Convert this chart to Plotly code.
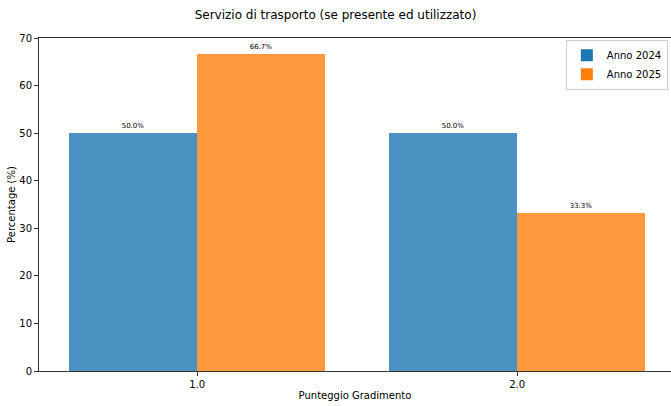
"""Bar chart: Servizio di trasporto, 2024 vs 2025."""

import plotly.graph_objects as go

scores = [1.0, 2.0]
tick_labels = ["1.0", "2.0"]
pct_2024 = [50.0, 50.0]
pct_2025 = [66.7, 33.3]

BAR_W = 0.4
FONT = "DejaVu Sans"

fig = go.Figure()
fig.add_trace(go.Bar(
    x=scores, y=pct_2024, name="Anno 2024",
    width=BAR_W, offset=-BAR_W,
    marker=dict(color="#1f77b4", opacity=0.8, line=dict(width=0)),
    text=[f"{v:.1f}%" for v in pct_2024], textposition="outside",
    textfont=dict(size=7, color="black"), cliponaxis=False,
))
fig.add_trace(go.Bar(
    x=scores, y=pct_2025, name="Anno 2025",
    width=BAR_W, offset=0,
    marker=dict(color="#ff7f0e", opacity=0.8, line=dict(width=0)),
    text=[f"{v:.1f}%" for v in pct_2025], textposition="outside",
    textfont=dict(size=7, color="black"), cliponaxis=False,
))

axis_style = dict(showgrid=False, zeroline=False, showline=True,
                  linecolor="#333", linewidth=1, ticks="outside",
                  ticklen=4, tickcolor="#333", automargin=False,
                  tickfont=dict(size=10, color="black"))

fig.update_layout(
    width=671, height=406,
    margin=dict(l=39, r=0, t=38, b=35),
    paper_bgcolor="white", plot_bgcolor="white",
    font=dict(family=FONT, color="black"),
    title=dict(text="Servizio di trasporto (se presente ed utilizzato)",
               x=0.5, xanchor="center", y=0.963, yanchor="middle",
               font=dict(size=12)),
    bargap=0, barmode="overlay",
    uniformtext=dict(minsize=7, mode="show"),
    legend=dict(x=0.995, y=0.995, xanchor="right", yanchor="top",
                bgcolor="white", bordercolor="#ccc", borderwidth=1,
                font=dict(size=10), itemwidth=30, tracegroupgap=0),
    showlegend=True,
)
fig.update_xaxes(axis_style, range=[0.506, 2.481], mirror=True,
                 tickvals=scores, ticktext=tick_labels,
                 title=dict(text="Punteggio Gradimento", font=dict(size=10),
                            standoff=2))
fig.update_yaxes(axis_style, range=[0, 70], dtick=10,
                 title=dict(text="Percentage (%)", font=dict(size=10),
                            standoff=1))

fig.write_html("out.html", config={"displayModeBar": False},
               post_script="document.body.style.margin='0';")
